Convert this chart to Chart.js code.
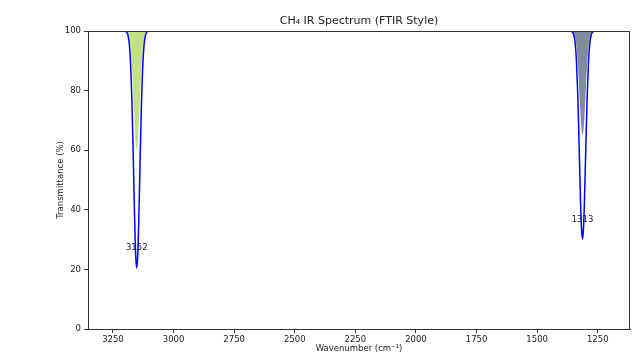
<!DOCTYPE html>
<html>
<head>
<meta charset="utf-8">
<script src="https://cdn.jsdelivr.net/npm/chart.js@4.4.1/dist/chart.umd.min.js"></script>
<style>
  html, body { margin: 0; padding: 0; background: #fff; }
  canvas { display: block; }
</style>
</head>
<body>
<canvas id="irChart" width="632" height="355"></canvas>
<script>
// CH4 spectrum, transmittance (%) against wavenumber (cm-1)
const wavenumbers = [1117, 1258, 1269, 1277, 1283, 1288, 1293, 1297, 1301, 1305, 1309, 1313,
    1317, 1321, 1325, 1329, 1333, 1338, 1343, 1349, 1357, 1368,
    3097, 3108, 3116, 3122, 3127, 3132, 3136, 3140, 3144, 3148, 3152,
    3156, 3160, 3164, 3168, 3172, 3177, 3182, 3188, 3196, 3207, 3353];
const transmittance = [100, 100, 99.83, 98.74, 95.71, 89.94, 79.8, 68.44, 55.33, 42.76, 33.58, 30.2,
    33.58, 42.76, 55.33, 68.44, 79.8, 89.94, 95.71, 98.74, 99.83, 100,
    100, 99.8, 98.57, 95.12, 88.54, 77.0, 64.05, 49.12, 34.81, 24.35, 20.5,
    24.35, 34.81, 49.12, 64.05, 77.0, 88.54, 95.12, 98.57, 99.8, 100, 100];

// shaded bands under the C-H stretch and the bend
const stretchBand = [3108, 3116, 3122, 3127, 3132, 3136, 3140, 3144, 3148, 3152,
    3156, 3160, 3164, 3168, 3172, 3177, 3182, 3188, 3196];
const stretchFill = [99.9, 99.29, 97.56, 94.27, 88.5, 82.03, 74.56, 67.41, 62.18, 60.25,
    62.18, 67.41, 74.56, 82.03, 88.5, 94.27, 97.56, 99.29, 99.9];
const bendBand = [1269, 1277, 1283, 1288, 1293, 1297, 1301, 1305, 1309, 1313,
    1317, 1321, 1325, 1329, 1333, 1338, 1343, 1349, 1357];
const bendFill = [99.91, 99.37, 97.86, 94.97, 89.9, 84.22, 77.67, 71.38, 66.79, 65.1,
    66.79, 71.38, 77.67, 84.22, 89.9, 94.97, 97.86, 99.37, 99.91];

const peakPositions = [3152, 1313];
const peakLabelY = [27.2, 36.6];

const xTicks = [3250, 3000, 2750, 2500, 2250, 2000, 1750, 1500, 1250];
const yTicks = [0, 20, 40, 60, 80, 100];

const FONT = 'DejaVu Sans, sans-serif';
const INK = '#222';

const toPoints = (xs, ys) => xs.map((x, i) => ({ x: x, y: ys[i] }));

const peakLabels = {
    id: 'peakLabels',
    beforeDatasetsDraw(chart) {
        const ctx = chart.ctx;
        const xs = chart.scales.x, ys = chart.scales.y;
        ctx.save();
        ctx.font = '8.5px ' + FONT;
        ctx.fillStyle = INK;
        ctx.textAlign = 'center';
        ctx.textBaseline = 'middle';
        peakPositions.forEach((p, i) => {
            ctx.fillText(String(p), xs.getPixelForValue(p), ys.getPixelForValue(peakLabelY[i]));
        });
        ctx.restore();
    }
};

const frameAndTitles = {
    id: 'frameAndTitles',
    afterDatasetsDraw(chart) {
        const ctx = chart.ctx;
        const a = chart.chartArea;
        ctx.save();
        ctx.strokeStyle = '#333';
        ctx.lineWidth = 1;
        ctx.strokeRect(a.left + 0.5, a.top + 0.5, a.right - a.left - 1, a.bottom - a.top);

        const cx = (a.left + a.right) / 2;
        ctx.fillStyle = INK;
        ctx.textAlign = 'center';
        ctx.textBaseline = 'middle';
        ctx.font = '11px ' + FONT;
        ctx.fillText('CH\u2084 IR Spectrum (FTIR Style)', cx, 21);

        ctx.font = '8.5px ' + FONT;
        ctx.fillText('Wavenumber (cm\u207B\u00B9)', cx, 349);

        ctx.translate(61, (a.top + a.bottom) / 2);
        ctx.rotate(-Math.PI / 2);
        ctx.fillText('Transmittance (%)', 0, 0);
        ctx.restore();
    }
};

const axisStyle = {
    grid: { display: true, drawOnChartArea: false, drawTicks: true, tickLength: 4, color: '#333' },
    border: { display: true, color: '#333' }
};

new Chart(document.getElementById('irChart'), {
    type: 'line',
    data: {
        datasets: [
            {
                data: toPoints(wavenumbers, transmittance),
                borderColor: '#0000ff',
                borderWidth: 1.5,
                pointRadius: 0,
                cubicInterpolationMode: 'monotone',
                fill: false
            },
            {
                data: toPoints(stretchBand, stretchFill),
                borderColor: 'rgba(0,0,0,0)',
                borderWidth: 0,
                pointRadius: 0,
                cubicInterpolationMode: 'monotone',
                backgroundColor: 'rgba(154,205,50,0.6)',
                fill: { value: 100 }
            },
            {
                data: toPoints(bendBand, bendFill),
                borderColor: 'rgba(0,0,0,0)',
                borderWidth: 0,
                pointRadius: 0,
                cubicInterpolationMode: 'monotone',
                backgroundColor: 'rgba(112,128,144,0.9)',
                fill: { value: 100 }
            }
        ]
    },
    options: {
        responsive: false,
        devicePixelRatio: 1,
        animation: false,
        layout: { padding: { left: 0, right: 2, top: 31, bottom: 0 } },
        plugins: {
            legend: { display: false },
            tooltip: { enabled: false },
            title: { display: false }
        },
        scales: {
            x: {
                type: 'linear',
                reverse: true,
                min: 1117,
                max: 3353,
                afterBuildTicks: s => { s.ticks = xTicks.map(v => ({ value: v })); },
                afterFit: s => { s.height = 26; },
                ticks: {
                    font: { family: FONT, size: 8.5 }, color: INK, padding: 2,
                    maxRotation: 0, autoSkip: false, callback: v => String(v)
                },
                ...axisStyle
            },
            y: {
                min: 0,
                max: 100,
                afterBuildTicks: s => { s.ticks = yTicks.map(v => ({ value: v })); },
                afterFit: s => { s.width = 88; },
                ticks: { font: { family: FONT, size: 8.5 }, color: INK, padding: 3, callback: v => String(v) },
                ...axisStyle
            }
        }
    },
    plugins: [peakLabels, frameAndTitles]
});
</script>
</body>
</html>
